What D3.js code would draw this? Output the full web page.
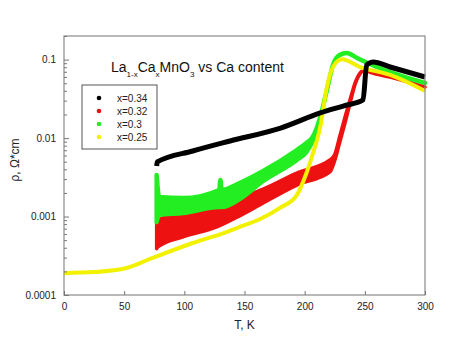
<!DOCTYPE html>
<html>
<head>
<meta charset="utf-8">
<script src="https://cdn.jsdelivr.net/npm/d3@7"></script>
<style>
	body{margin:0;background:#fff;}
	text{font-family:"Liberation Sans", Arial, sans-serif;}
</style>
</head>
<body>
<div id="chart"></div>
<script>
const margin = {t:36, r:36, b:43, l:64};

//tick values for both axes
const xTicks = [0, 50, 100, 150, 200, 250, 300];
const yTicks = [0.0001, 0.001, 0.01, 0.1];
const yTickLabels = ['0.0001', '0.001', '0.01', '0.1'];

//legend entries
const seriesNames = ['x=0.34', 'x=0.32', 'x=0.3', 'x=0.25'];
const seriesColors = ['#000000', '#ee1111', '#22ee22', '#f2f200'];

//x=0.34 (black)
const blackT = [77, 77.5, 107, 138, 180, 213, 232, 248.5, 251.5, 257, 271, 300];
const blackV = [0.0044, 0.00496, 0.00684, 0.00918, 0.0134, 0.0209, 0.0256, 0.0306, 0.0854, 0.0933, 0.0805, 0.06];

//x=0.32 (red), noisy band: low and high edges
const redT  = [77, 78, 99, 127, 146, 165.5, 193.5, 221, 225, 229, 233.5, 238, 242, 246, 250, 254, 271, 300];
const redLo = [0.00039, 0.000409, 0.000549, 0.000736, 0.00102, 0.00149, 0.00252, 0.0037, 0.0052, 0.00865, 0.0155, 0.029, 0.049, 0.066, 0.0738, 0.0695, 0.06, 0.0448];
const redHi = [0.00085, 0.000903, 0.00111, 0.00132, 0.00172, 0.00224, 0.00359, 0.00526, 0.0062, 0.0103, 0.0185, 0.032, 0.051, 0.0675, 0.0738, 0.0695, 0.06, 0.0448];

//x=0.3 (green), noisy band
const greenT  = [77, 79, 99, 129, 130, 131, 146, 165.5, 193.5, 201.5, 207, 213, 218.5, 223.5, 229, 235, 243.5, 260, 271, 300];
const greenLo = [0.000852, 0.00105, 0.00111, 0.00132, 0.00132, 0.00132, 0.00167, 0.00284, 0.00526, 0.00665, 0.0095, 0.0186, 0.041, 0.0854, 0.1145, 0.1215, 0.1049, 0.0805, 0.0695, 0.0504];
const greenHi = [0.00338, 0.00178, 0.00172, 0.00218, 0.00292, 0.00218, 0.00268, 0.00381, 0.00705, 0.00865, 0.0105, 0.0186, 0.041, 0.0854, 0.1145, 0.1215, 0.1049, 0.0805, 0.0695, 0.0504];

//x=0.25 (yellow), smooth curve
const yellowT = [0, 25, 52, 72, 107, 135, 146, 163, 179.5, 193.5, 201.5, 207, 213, 218.5, 223.5, 231, 246, 271, 300];
const yellowV = [0.00019, 0.000196, 0.000221, 0.00029, 0.00046, 0.000635, 0.000736, 0.00093, 0.00129, 0.00188, 0.00359, 0.00645, 0.014, 0.0448, 0.0805, 0.101, 0.0805, 0.0637, 0.0398];

drawChart();

function drawChart(){
	const W = 461, H = 338;
	const w = W - margin.l - margin.r;
	const h = H - margin.t - margin.b;

	const scaleX = d3.scaleLinear().domain([0, 300]).range([0, w]);
	const scaleY = d3.scaleLog().domain([0.0001, 0.2]).range([h, 0]);

	const svg = d3.select('#chart')
		.append('svg')
		.attr('width', W).attr('height', H);

	const plot = svg.append('g')
		.attr('transform', `translate(${margin.l}, ${margin.t})`);

	const line = d3.line()
		.x(function(d){ return scaleX(d.t) })
		.y(function(d){ return scaleY(d.v) })
		.curve(d3.curveMonotoneX);

	const band = d3.area()
		.x(function(d){ return scaleX(d.t) })
		.y0(function(d){ return scaleY(d.lo) })
		.y1(function(d){ return scaleY(d.hi) })
		.curve(d3.curveMonotoneX);

	const black = blackT.map(function(t,i){ return {t:t, v:blackV[i]} });
	const red = redT.map(function(t,i){ return {t:t, lo:redLo[i], hi:redHi[i]} });
	const green = greenT.map(function(t,i){ return {t:t, lo:greenLo[i], hi:greenHi[i]} });
	const yellow = yellowT.map(function(t,i){ return {t:t, v:yellowV[i]} });

	//noisy bands: filled area plus a stroke so the thin part keeps its width
	plot.append('path')
		.datum(red)
		.attr('d', band)
		.style('fill', seriesColors[1])
		.style('stroke', seriesColors[1])
		.style('stroke-width', 3.5)
		.style('stroke-linejoin', 'round');

	plot.append('path')
		.datum(green)
		.attr('d', band)
		.style('fill', seriesColors[2])
		.style('stroke', seriesColors[2])
		.style('stroke-width', 4.5)
		.style('stroke-linejoin', 'round');

	plot.append('path')
		.datum(yellow)
		.attr('d', line)
		.style('fill', 'none')
		.style('stroke', seriesColors[3])
		.style('stroke-width', 4);

	plot.append('path')
		.datum(black)
		.attr('d', line)
		.style('fill', 'none')
		.style('stroke', seriesColors[0])
		.style('stroke-width', 5)
		.style('stroke-linejoin', 'round');

	//frame
	plot.append('rect')
		.attr('width', w).attr('height', h)
		.style('fill', 'none')
		.style('stroke', '#8a8a8a')
		.style('stroke-width', 1.2);

	//axes, ticks pointing inward
	const axisX = d3.axisBottom(scaleX)
		.tickValues(xTicks)
		.tickSize(-4)
		.tickPadding(8);

	plot.append('g')
		.attr('class', 'axis axis-x')
		.attr('transform', `translate(0, ${h})`)
		.call(axisX);

	const minor = [];
	[0.0001, 0.001, 0.01, 0.1].forEach(function(dec){
		for(let k = 2; k <= 9; k++){
			if(dec * k <= 0.2) minor.push(dec * k);
		}
	});

	const axisYMinor = d3.axisLeft(scaleY)
		.tickValues(minor)
		.tickSize(-3)
		.tickFormat('');

	plot.append('g')
		.attr('class', 'axis axis-y-minor')
		.call(axisYMinor);

	const axisY = d3.axisLeft(scaleY)
		.tickValues(yTicks)
		.tickSize(-5)
		.tickPadding(8)
		.tickFormat(function(d,i){ return yTickLabels[i] });

	plot.append('g')
		.attr('class', 'axis axis-y')
		.call(axisY);

	plot.selectAll('.axis .domain').remove();
	plot.selectAll('.axis line').style('stroke', '#777');
	plot.selectAll('.axis text')
		.style('font-size', '10px')
		.style('fill', '#222')
		.style('font-family', '"Liberation Sans", Arial, sans-serif');

	//axis titles
	svg.append('text')
		.attr('x', margin.l + w/2)
		.attr('y', 329)
		.attr('text-anchor', 'middle')
		.style('font-size', '12px')
		.style('fill', '#222')
		.text('T, K');

	svg.append('text')
		.attr('transform', 'translate(19, 160) rotate(-90)')
		.attr('text-anchor', 'middle')
		.style('font-size', '12px')
		.style('fill', '#222')
		.text('ρ, Ω*cm');

	//chart title with subscripts
	const title = svg.append('text')
		.attr('x', 111)
		.attr('y', 72)
		.style('font-size', '14px')
		.style('fill', '#111');
	title.append('tspan').text('La');
	title.append('tspan').attr('baseline-shift', 'sub').style('font-size', '8px').text('1-x');
	title.append('tspan').text('Ca');
	title.append('tspan').attr('baseline-shift', 'sub').style('font-size', '8px').text('x');
	title.append('tspan').text('MnO');
	title.append('tspan').attr('baseline-shift', 'sub').style('font-size', '8px').text('3');
	title.append('tspan').text(' vs Ca content');

	//legend
	const legend = svg.append('g')
		.attr('transform', 'translate(82, 85)');

	legend.append('rect')
		.attr('width', 75).attr('height', 64)
		.style('fill', '#fff')
		.style('stroke', '#555')
		.style('stroke-width', 1);

	const rows = legend.selectAll('.row')
		.data(seriesNames)
		.enter()
		.append('g')
		.attr('class', 'row')
		.attr('transform', function(d,i){ return `translate(0, ${13 + i*13})` });

	rows.append('circle')
		.attr('cx', 17).attr('cy', 0).attr('r', 2.3)
		.style('fill', function(d,i){ return seriesColors[i] });

	rows.append('text')
		.attr('x', 35).attr('y', 3.5)
		.style('font-size', '10px')
		.style('fill', '#222')
		.text(function(d){ return d });
}
</script>
</body>
</html>
